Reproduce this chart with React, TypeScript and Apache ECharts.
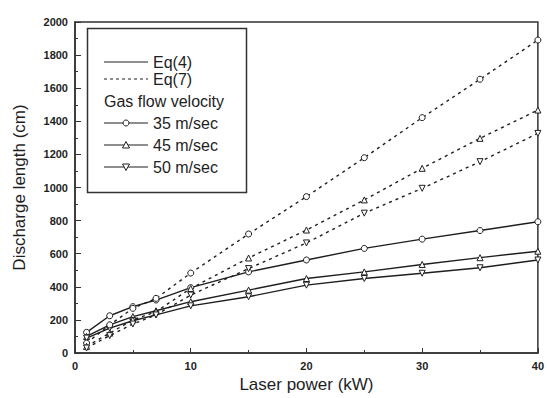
import React, { useEffect, useRef } from "react";
import * as echarts from "echarts";

const power = [1, 3, 5, 7, 10, 15, 20, 25, 30, 35, 40];
const eq4_35 = [125, 225, 280, 320, 395, 490, 562, 632, 688, 740, 793];
const eq4_45 = [100, 170, 220, 255, 310, 380, 450, 490, 535, 576, 615];
const eq4_50 = [90, 150, 195, 230, 285, 340, 410, 450, 482, 515, 562];
const eq7_35 = [60, 170, 270, 330, 483, 719, 945, 1180, 1422, 1654, 1891];
const eq7_45 = [40, 120, 200, 250, 390, 574, 743, 925, 1116, 1297, 1468];
const eq7_50 = [30, 105, 175, 230, 350, 510, 665, 845, 995, 1156, 1327];

const legendLines = ["Eq(4)", "Eq(7)"];
const legendTitle = "Gas flow velocity";
const velocities = ["35 m/sec", "45 m/sec", "50 m/sec"];

const INK = "#1e1e1e";
const FONT = "Liberation Sans, Arial, sans-serif";
const downTri = "path://M0,0 L10,0 L5,9 Z";

function pair(xs: number[], ys: number[]) {
  return xs.map((x, i) => [x, ys[i]]);
}

export default function App() {
  const ref = useRef<HTMLDivElement>(null);
  useEffect(() => {
    if (!ref.current) return;
    const chart = echarts.init(ref.current, null, { renderer: "svg" });
    const mk = (name: string, ys: number[], symbol: string, dashed: boolean) => ({
      name,
      type: "line",
      xAxisIndex: 0,
      yAxisIndex: 0,
      data: pair(power, ys),
      symbol,
      symbolSize: 6,
      showSymbol: true,
      lineStyle: { color: INK, width: 1.4, type: dashed ? [3, 4] : "solid" },
      itemStyle: { color: "#fff", borderColor: INK, borderWidth: 1 },
      z: 3,
    });
    const lx0 = 104, lx1 = 148, tx = 153;
    const rows = [62, 79, 101, 123, 145, 167];
    const lfont = `16px ${FONT}`;
    const graphic: any[] = [
      {
        type: "rect",
        shape: { x: 87.5, y: 28.5, width: 159, height: 164 },
        style: { fill: "#fff", stroke: "#333", lineWidth: 1.5 },
        z: 10,
      },
      {
        type: "line",
        shape: { x1: lx0, y1: rows[0], x2: lx1, y2: rows[0] },
        style: { stroke: INK, lineWidth: 1.2 },
        z: 11,
      },
      {
        type: "line",
        shape: { x1: lx0, y1: rows[1], x2: lx1, y2: rows[1] },
        style: { stroke: INK, lineWidth: 1.2, lineDash: [3, 3] },
        z: 11,
      },
      { type: "text", x: tx, y: rows[0], style: { text: legendLines[0], font: lfont, fill: INK, verticalAlign: "middle" }, z: 11 },
      { type: "text", x: tx, y: rows[1], style: { text: legendLines[1], font: lfont, fill: INK, verticalAlign: "middle" }, z: 11 },
      { type: "text", x: 104, y: rows[2], style: { text: legendTitle, font: lfont, fill: INK, verticalAlign: "middle" }, z: 11 },
    ];
    velocities.forEach((v, i) => {
      const y = rows[3 + i];
      const cx = 126;
      graphic.push({
        type: "line",
        shape: { x1: lx0, y1: y, x2: lx1, y2: y },
        style: { stroke: INK, lineWidth: 1.2 },
        z: 11,
      });
      if (i === 0) {
        graphic.push({ type: "circle", shape: { cx, cy: y, r: 3 }, style: { fill: "#fff", stroke: INK, lineWidth: 1 }, z: 12 });
      } else if (i === 1) {
        graphic.push({ type: "polygon", shape: { points: [[cx - 3.5, y + 3], [cx + 3.5, y + 3], [cx, y - 3.5]] }, style: { fill: "#fff", stroke: INK, lineWidth: 1 }, z: 12 });
      } else {
        graphic.push({ type: "polygon", shape: { points: [[cx - 3.5, y - 3], [cx + 3.5, y - 3], [cx, y + 3.5]] }, style: { fill: "#fff", stroke: INK, lineWidth: 1 }, z: 12 });
      }
      graphic.push({ type: "text", x: tx, y, style: { text: v, font: lfont, fill: INK, verticalAlign: "middle" }, z: 11 });
    });

    const labelStyle = { fontFamily: FONT, fontSize: 11, fontWeight: "bold" as const, color: INK };
    const minorAxisBase = {
      type: "value",
      axisLine: { show: false },
      axisLabel: { show: false },
      splitLine: { show: false },
      axisTick: { show: true, inside: true, length: 3, lineStyle: { color: "#333" } },
    };

    chart.setOption({
      animation: false,
      backgroundColor: "#fff",
      grid: {
        left: 75,
        right: 4,
        top: 22,
        bottom: 45,
        show: true,
        borderColor: "#333",
        borderWidth: 1.5,
        backgroundColor: "transparent",
      },
      xAxis: [
        {
          type: "value",
          min: 0,
          max: 40,
          interval: 10,
          name: "Laser power (kW)",
          nameLocation: "middle",
          nameGap: 23,
          nameTextStyle: { fontFamily: FONT, fontSize: 17, color: INK },
          axisLine: { show: true, lineStyle: { color: "#333", width: 1.5 } },
          axisTick: { show: true, inside: true, length: 5, lineStyle: { color: "#333" } },
          axisLabel: { ...labelStyle, margin: 7, formatter: (v: number) => String(v) },
          splitLine: { show: false },
        },
        { ...minorAxisBase, position: "bottom", min: 0, max: 40, interval: 5 },
      ],
      yAxis: [
        {
          type: "value",
          min: 0,
          max: 2000,
          interval: 200,
          name: "Discharge length (cm)",
          nameLocation: "middle",
          nameGap: 47,
          nameTextStyle: { fontFamily: FONT, fontSize: 17, color: INK },
          axisLine: { show: true, lineStyle: { color: "#333", width: 1.5 } },
          axisTick: { show: true, inside: true, length: 6, lineStyle: { color: "#333" } },
          axisLabel: { ...labelStyle, margin: 7, formatter: (v: number) => String(v) },
          splitLine: { show: false },
        },
        { ...minorAxisBase, position: "left", min: 0, max: 2000, interval: 100 },
      ],
      series: [
        mk("Eq(4) 35 m/sec", eq4_35, "circle", false),
        mk("Eq(4) 45 m/sec", eq4_45, "triangle", false),
        mk("Eq(4) 50 m/sec", eq4_50, downTri, false),
        mk("Eq(7) 35 m/sec", eq7_35, "circle", true),
        mk("Eq(7) 45 m/sec", eq7_45, "triangle", true),
        mk("Eq(7) 50 m/sec", eq7_50, downTri, true),
      ],
      graphic,
    });
    return () => chart.dispose();
  }, []);
  return (
    <div
      ref={ref}
      style={{ position: "fixed", left: 0, top: 0, width: 547, height: 398, background: "#fff" }}
    />
  );
}
